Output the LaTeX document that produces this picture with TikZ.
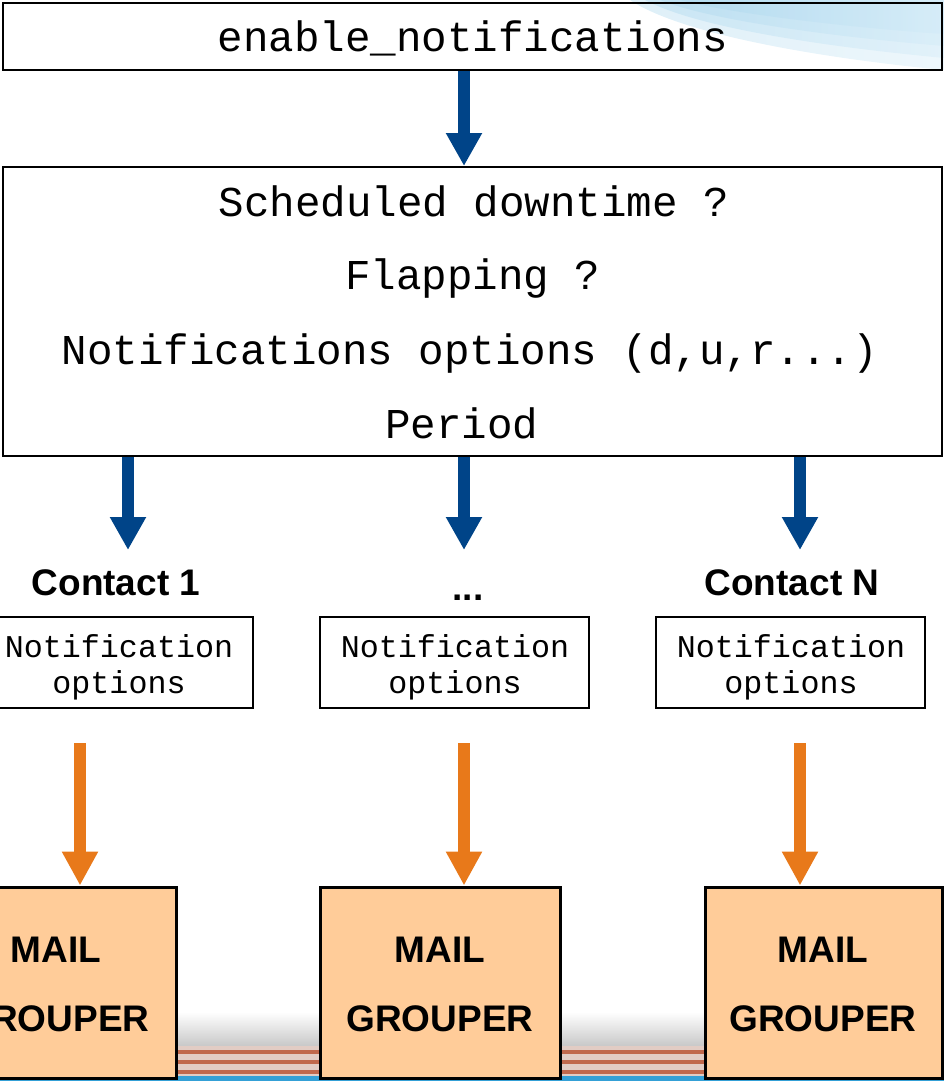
\documentclass[tikz,border=0pt]{standalone}
\usepackage{fontspec}
\setmonofont{Liberation Mono}
\setsansfont{Liberation Sans}
\usetikzlibrary{arrows.meta}
\definecolor{arrblue}{RGB}{0,68,136}
\definecolor{arrorange}{RGB}{232,121,26}
\definecolor{mailfill}{RGB}{255,204,153}
\definecolor{swoosh}{RGB}{160,210,235}
\definecolor{swooshlight}{RGB}{205,232,246}
\definecolor{stripebg}{RGB}{226,204,196}
\definecolor{stripe}{RGB}{192,104,76}
\definecolor{barblue}{RGB}{52,160,214}
\definecolor{floorgray}{RGB}{200,200,200}
\tikzset{
  bigbox/.style={draw=black, line width=2pt, inner sep=0pt},
  optbox/.style={draw=black, line width=1.5pt, inner sep=0pt, minimum width=269pt, minimum height=91pt},
  mailbox/.style={draw=black, fill=mailfill, line width=3pt, inner sep=0pt, minimum height=191pt},
  monotxt/.style={font=\ttfamily\fontsize{42.5}{48}\selectfont, inner sep=0pt, anchor=base},
  smalltxt/.style={font=\ttfamily\fontsize{31.7}{36}\selectfont, inner sep=0pt, anchor=base},
  bold/.style={font=\sffamily\bfseries\fontsize{37}{44}\selectfont, inner sep=0pt, anchor=base},
  bluearrow/.style={draw=arrblue, line width=12pt, -{Triangle[width=34pt,length=33pt]}},
  orangearrow/.style={draw=arrorange, line width=12pt, -{Triangle[width=34pt,length=34pt]}},
}
\begin{document}
\begin{tikzpicture}[x=1pt,y=-1pt]
\path[use as bounding box] (0,0) rectangle (944,1081);
\begin{scope}
\clip (0,0) rectangle (944,1081);
% background decorations
\begin{scope}[opacity=0.35]
\shade[left color=swoosh, right color=swooshlight] (630,0) -- (944,0) -- (944,70) .. controls (860,62) and (690,40) .. (630,0) -- cycle;
\shade[left color=swoosh, right color=swooshlight] (645,0) -- (944,0) -- (944,58) .. controls (860,50) and (705,32) .. (645,0) -- cycle;
\shade[left color=swoosh, right color=swooshlight] (660,0) -- (944,0) -- (944,46) .. controls (870,40) and (720,24) .. (660,0) -- cycle;
\shade[left color=swoosh, right color=swooshlight] (680,0) -- (944,0) -- (944,34) .. controls (880,30) and (740,16) .. (680,0) -- cycle;
\end{scope}
\shade[top color=white, bottom color=floorgray] (0,1012) rectangle (944,1046);
\fill[stripebg] (0,1046) rectangle (944,1076);
\foreach \yy in {1052,1062,1072} {\fill[stripe] (0,\yy-1.8) rectangle (944,\yy+1.8);}
\fill[barblue] (0,1076) rectangle (944,1081);

% top box
\node[bigbox, minimum width=939pt, minimum height=67pt] (top) at (472.5,36.5) {};
\node[monotxt] (toptxt) at (473,52) {enable\_notifications};

% checks box
\node[bigbox, minimum width=939pt, minimum height=289pt] (checks) at (472.5,311.5) {};
\node[monotxt] (t1) at (474,216) {Scheduled downtime ?};
\node[monotxt] (t2) at (473,289) {Flapping ?};
\node[monotxt] (t3) at (470,364) {Notifications options (d,u,r...)};
\node[monotxt] (t4) at (462,438) {Period};

% arrow axes
\coordinate (ax1) at (128,0);
\coordinate (ax2) at (464,0);
\coordinate (ax3) at (800,0);

\draw[bluearrow] (top.south -| ax2) -- (checks.north -| ax2);

% contact labels
\node[bold] (c1) at (116,595) {Contact 1};
\node[bold] (c2) at (468,600) {...};
\node[bold] (c3) at (792,595) {Contact N};
\coordinate (b1e) at (128,550);
\coordinate (b2e) at (464,550);
\coordinate (b3e) at (800,550);
\draw[bluearrow] (checks.south -| ax1) -- (b1e);
\draw[bluearrow] (checks.south -| ax2) -- (b2e);
\draw[bluearrow] (checks.south -| ax3) -- (b3e);

% notification option boxes
\node[optbox] (o1) at (118.5,662.5) {};
\node[optbox] (o2) at (454.5,662.5) {};
\node[optbox] (o3) at (790.5,662.5) {};
\foreach \n/\x in {1/119,2/455,3/791} {
  \node[smalltxt] (on\n) at (\x,657) {Notification};
  \node[smalltxt] (oo\n) at (\x,693) {options};
}

% mail grouper boxes
\node[mailbox, minimum width=240pt] (m1) at (56,982.5) {};
\node[mailbox, minimum width=240pt] (m2) at (440,982.5) {};
\node[mailbox, minimum width=237pt] (m3) at (823.5,982.5) {};
\foreach \n/\x in {1/56,2/440,3/823} {
  \node[bold] (ml\n) at (\x,962) {MAIL};
  \node[bold] (mg\n) at (\x,1031) {GROUPER};
}

\coordinate (s1) at (80,743);
\coordinate (s2) at (464,743);
\coordinate (s3) at (800,743);
\draw[orangearrow] (s1) -- (m1.north -| s1);
\draw[orangearrow] (s2) -- (m2.north -| s2);
\draw[orangearrow] (s3) -- (m3.north -| s3);
\end{scope}
\end{tikzpicture}
\end{document}
